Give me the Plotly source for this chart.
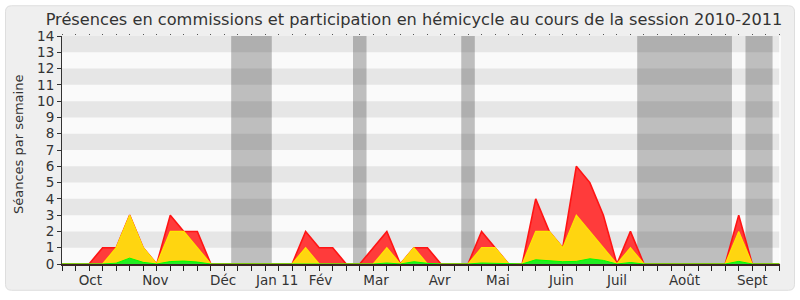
import plotly.graph_objects as go

# ---- data (week index 0..53 of the session) ----
weeks = list(range(54))
hemicycle = [0, 0, 0, 1, 1, 3, 1, 0, 3, 2, 2, 0, 0, 0, 0, 0, 0, 0, 2, 1,
             1, 0, 0, 1, 2, 0, 1, 1, 0, 0, 0, 2, 1, 0, 0, 4, 2, 1, 6, 5,
             3, 0, 2, 0, 0, 0, 0, 0, 0, 0, 3, 0, 0, 0]
commission = [0, 0, 0, 0, 1, 3, 1, 0, 2, 2, 1, 0, 0, 0, 0, 0, 0, 0, 1, 0,
              0, 0, 0, 0, 1, 0, 1, 0, 0, 0, 0, 1, 1, 0, 0, 2, 2, 1, 3, 2,
              1, 0, 1, 0, 0, 0, 0, 0, 0, 0, 2, 0, 0, 0]
interventions = [0, 0, 0, 0, 0.05, 0.36, 0.1, 0, 0.15, 0.18, 0.12, 0, 0, 0, 0, 0, 0, 0, 0.04, 0,
                 0, 0, 0, 0, 0.06, 0, 0.14, 0.04, 0, 0, 0, 0.06, 0.04, 0, 0, 0.26, 0.2, 0.14, 0.16, 0.32,
                 0.22, 0, 0.09, 0, 0, 0, 0, 0, 0, 0, 0.16, 0, 0, 0]
month_labels = ["Oct", "Nov", "Déc", "Jan 11", "Fév", "Mar", "Avr", "Mai",
                "Juin", "Juil", "Août", "Sept"]
month_ticks = [2.1, 6.9, 11.9, 15.9, 19.1, 23.2, 27.9, 32.2, 36.9, 41.0, 46.0, 51.0]
vacances = [(12.5, 15.5), (21.5, 22.5), (29.5, 30.5), (42.5, 49.5), (50.5, 52.5)]
y_max = 14
title = "Présences en commissions et participation en hémicycle au cours de la session 2010-2011"
y_title = "Séances par semaine"

# ---- layout geometry ----
W, H = 800, 300
ML, MR, MT, MB = 62, 20, 36, 34
PW, PH = W - ML - MR, H - MT - MB
FONT = "DejaVu Sans"


def px(xpix):
    return (xpix - ML) / PW


def py(ypix):
    return (H - MB - ypix) / PH


fig = go.Figure()

fig.add_trace(go.Scatter(x=weeks, y=hemicycle, mode="lines", fill="tozeroy",
                         fillcolor="#ff3b3b", line=dict(color="#ff1414", width=1.6),
                         hoverinfo="skip", showlegend=False))
fig.add_trace(go.Scatter(x=weeks, y=commission, mode="lines", fill="tozeroy",
                         fillcolor="#ffd510", line=dict(color="#ffe600", width=1.2),
                         hoverinfo="skip", showlegend=False))
fig.add_trace(go.Scatter(x=weeks, y=interventions, mode="lines", fill="tozeroy",
                         fillcolor="#22ee22", line=dict(color="#00ff00", width=1),
                         hoverinfo="skip", showlegend=False))
# invisible trace for top dotted axis
fig.add_trace(go.Scatter(x=weeks, y=hemicycle, mode="lines", line=dict(width=0),
                         opacity=0, xaxis="x2", hoverinfo="skip", showlegend=False))

shapes = []
# outer rounded frame (paper coords)
x0, x1, y0, y1, r = 5.5, 794.5, 5.5, 292.5, 6
path = (f"M {px(x0 + r)},{py(y0)} L {px(x1 - r)},{py(y0)} Q {px(x1)},{py(y0)} {px(x1)},{py(y0 + r)} "
        f"L {px(x1)},{py(y1 - r)} Q {px(x1)},{py(y1)} {px(x1 - r)},{py(y1)} "
        f"L {px(x0 + r)},{py(y1)} Q {px(x0)},{py(y1)} {px(x0)},{py(y1 - r)} "
        f"L {px(x0)},{py(y0 + r)} Q {px(x0)},{py(y0)} {px(x0 + r)},{py(y0)} Z")
shapes.append(dict(type="path", path=path, xref="paper", yref="paper",
                   fillcolor="#efefef", line=dict(color="#dedede", width=1), layer="below"))
# plot background
shapes.append(dict(type="rect", xref="x domain", yref="y domain", x0=0, x1=1, y0=0, y1=1,
                   fillcolor="#fafafa", line=dict(width=0), layer="below"))
# alternating bands
for k in range(1, y_max, 2):
    shapes.append(dict(type="rect", xref="x domain", yref="y", x0=0, x1=1, y0=k, y1=k + 1,
                       fillcolor="#e6e6e6", line=dict(width=0), layer="below"))
# vacation periods
for a, b in vacances:
    shapes.append(dict(type="rect", xref="x", yref="y domain", x0=a, x1=b, y0=0, y1=1,
                       fillcolor="rgba(0,0,0,0.24)", line=dict(width=0), layer="below"))
# white right edge
shapes.append(dict(type="line", xref="x domain", yref="y domain", x0=1, x1=1, y0=0, y1=1,
                   line=dict(color="white", width=1.5), layer="below"))

fig.update_layout(
    width=W, height=H,
    margin=dict(l=ML, r=MR, t=MT, b=MB, pad=0),
    paper_bgcolor="white",
    plot_bgcolor="rgba(0,0,0,0)",
    shapes=shapes,
    title=dict(text=title, font=dict(family=FONT, size=16.2, color="#333333"),
               x=414 / W, xanchor="center", xref="container",
               y=1 - 19 / H, yanchor="middle", yref="container"),
    xaxis=dict(range=[0, 53.05], tickmode="array", tickvals=month_ticks, ticktext=month_labels,
               ticks="outside", ticklen=3, tickcolor="rgba(0,0,0,0)",
               minor=dict(tickmode="linear", tick0=0, dtick=1, ticks="outside", ticklen=5,
                          tickcolor="#222222", tickwidth=1, showgrid=False),
               showgrid=False, zeroline=False, showline=True, linecolor="#3a2424", linewidth=1.5,
               tickfont=dict(family=FONT, size=13.5, color="#333333")),
    xaxis2=dict(range=[0, 53.05], overlaying="x", side="top", anchor="y",
                tickmode="linear", tick0=0, dtick=1, ticks="outside", ticklen=1,
                tickcolor="#555555", showticklabels=False, showgrid=False, zeroline=False,
                showline=False),
    yaxis=dict(range=[0, y_max], tickmode="linear", tick0=0, dtick=1, ticks="outside",
               ticklen=4, tickcolor="#333333", showgrid=False, zeroline=False,
               showline=True, linecolor="#333333", linewidth=1,
               tickfont=dict(family=FONT, size=13.5, color="#333333")),
    annotations=[dict(text=y_title, textangle=-90, xref="paper", yref="paper",
                      x=px(18), y=py(146), xanchor="center", yanchor="middle",
                      showarrow=False, font=dict(family=FONT, size=13, color="#333333"))],
)

fig.write_html("out.html")
